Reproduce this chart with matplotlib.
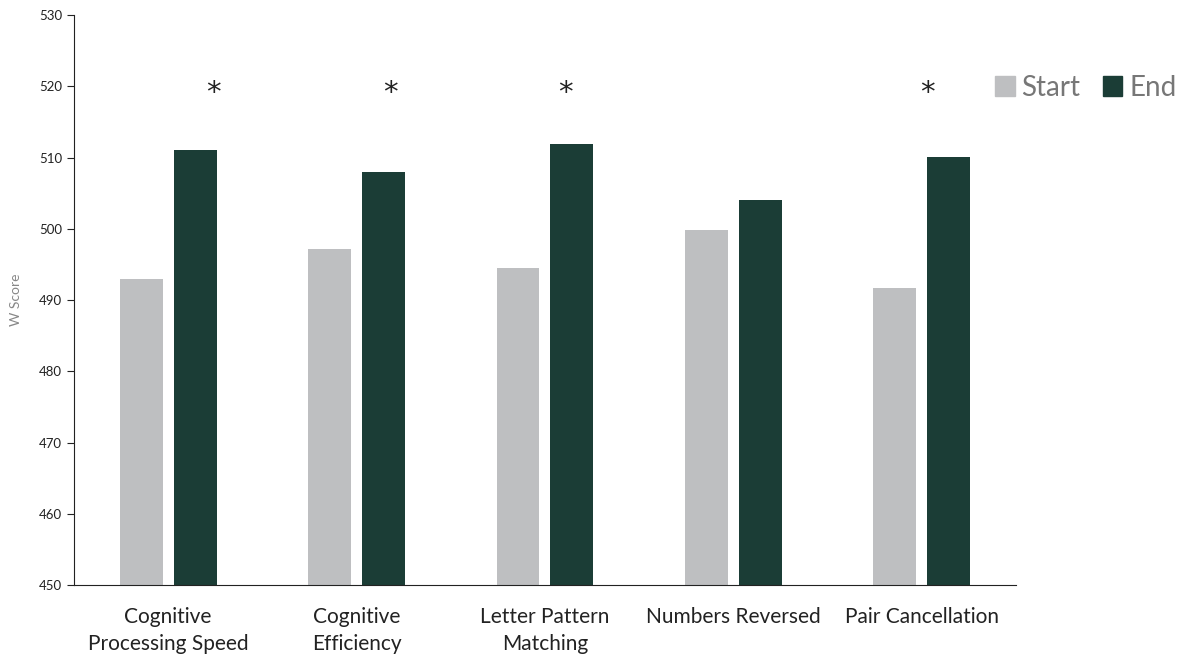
import numpy as np
import matplotlib.pyplot as plt
from matplotlib.patches import Patch

plt.rcParams['font.family'] = ['Lato', 'DejaVu Sans']

categories = ['Cognitive\nProcessing Speed', 'Cognitive\nEfficiency', 'Letter Pattern\nMatching',
              'Numbers Reversed', 'Pair Cancellation']
start_vals = [493.0, 497.1, 494.5, 499.8, 491.7]
end_vals = [511.1, 508.0, 511.9, 504.1, 510.1]
signif = [True, True, True, False, True]
star_shift = [0.24, 0.18, 0.11, 0.0, 0.03]

c_start = '#bebfc1'
c_end = '#1b3d36'

fig = plt.figure(figsize=(11.84, 6.58), dpi=100)
ax = fig.add_axes([0.0625, 0.111, 0.7955, 0.866])

x = np.arange(len(categories))
w = 0.228
off = 0.143
ax.bar(x - off, start_vals, w, color=c_start, bottom=0)
ax.bar(x + off, end_vals, w, color=c_end, bottom=0)

# significance markers
for i, s in enumerate(signif):
    if s:
        ax.text(x[i] + star_shift[i], 519.0, '*', ha='center', va='center', fontsize=21,
                color='#222222', family='DejaVu Sans')

ax.set_ylim(450, 530)
ax.set_xlim(-0.5, len(categories) - 0.5)
ax.set_yticks(np.arange(450, 531, 10))
ax.set_xticks(x)
ax.set_xticklabels(categories, fontsize=15, color='#222222', linespacing=1.45)
ax.tick_params(axis='x', length=0, pad=16)
ax.tick_params(axis='y', labelsize=9.5, colors='#222222', length=5)
ax.set_ylabel('W Score', fontsize=10, color='#888888', labelpad=12)
for sp in ['top', 'right']:
    ax.spines[sp].set_visible(False)
ax.spines['left'].set_color('#222222')
ax.spines['bottom'].set_color('#222222')

handles = [Patch(color=c_start, label='Start'), Patch(color=c_end, label='End')]
fig.legend(handles=handles, loc='center', bbox_to_anchor=(0.917, 0.867), ncol=2, frameon=False,
           fontsize=20, labelcolor='#777777', handlelength=0.7, handleheight=0.7,
           handletextpad=0.25, columnspacing=0.8)

fig.savefig('out.png', dpi=100)
